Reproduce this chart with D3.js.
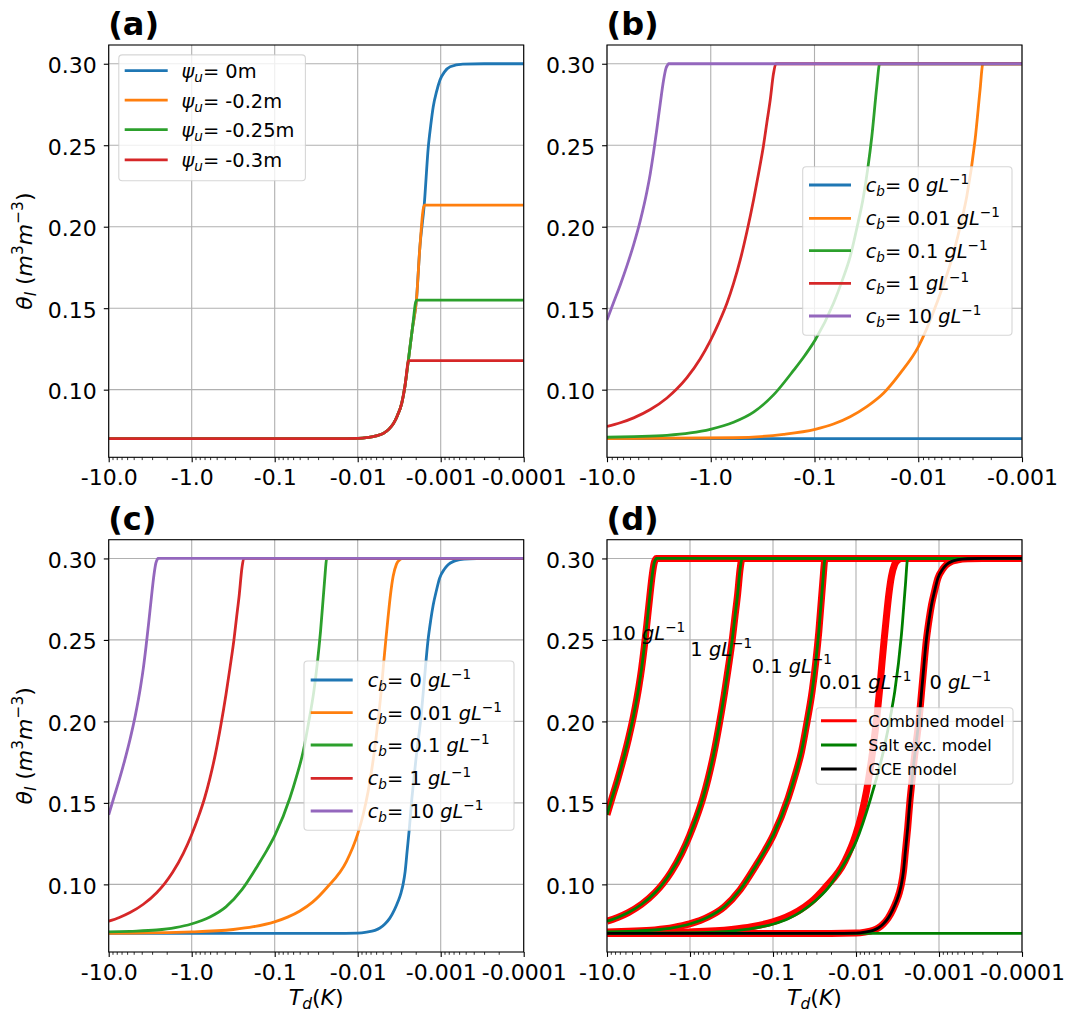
<!DOCTYPE html>
<html><head><meta charset="utf-8">
<script src="https://cdn.jsdelivr.net/npm/d3@7"></script>
<style>
body{margin:0;background:#fff}
text{font-family:"DejaVu Sans",sans-serif;white-space:pre}
</style>
</head><body>
<svg id="chart" width="1082" height="1017"></svg>
<script>
// ---------------- data ----------------
const xTickValues = [-10, -1, -0.1, -0.01, -0.001, -0.0001];
const xTickLabels = ["-10.0", "-1.0", "-0.1", "-0.01", "-0.001", "-0.0001"];
const yTickValues = [0.10, 0.15, 0.20, 0.25, 0.30];
const yTickLabels = ["0.10", "0.15", "0.20", "0.25", "0.30"];
const yDomain = [0.0585, 0.3115];

const psiLabels = ["0m", "-0.2m", "-0.25m", "-0.3m"];
const saltLabels = ["0", "0.01", "0.1", "1", "10"];
const modelLabels = ["Combined model", "Salt exc. model", "GCE model"];
const annotLabels = ["10", "1", "0.1", "0.01", "0"];
const annotT = [-8.9, -0.99, -0.18, -0.028, -0.0013];
const annotTheta = [0.25, 0.24, 0.23, 0.22, 0.22];

// panel (a): unfrozen water potential
const psi0 = [[-10,0.0699],[-0.02,0.0699],[-0.01,0.0701],[-0.0075,0.0707],[-0.006,0.0716],[-0.0049,0.0732],[-0.0042,0.0758],[-0.0037,0.0793],[-0.0033,0.0845],[-0.00295,0.0916],[-0.0027,0.102],[-0.00245,0.1182],[-0.0022,0.137],[-0.00196,0.155],[-0.00178,0.1877],[-0.00158,0.2133],[-0.00141,0.249],[-0.00132,0.262],[-0.00123,0.2736],[-0.00112,0.283],[-0.00102,0.29],[-0.0009,0.295],[-0.00077,0.2982],[-0.00054,0.2998],[-0.0003,0.30],[-0.0001,0.30]];
const psi02 = [[-10,0.0699],[-0.02,0.0699],[-0.01,0.0701],[-0.0075,0.0707],[-0.006,0.0716],[-0.0049,0.0732],[-0.0042,0.0758],[-0.0037,0.0793],[-0.0033,0.0845],[-0.00295,0.0916],[-0.0027,0.102],[-0.00245,0.1182],[-0.0022,0.137],[-0.00196,0.155],[-0.00178,0.1877],[-0.00158,0.2133],[-0.0001,0.2133]];
const psi025 = [[-10,0.0699],[-0.02,0.0699],[-0.01,0.0701],[-0.0075,0.0707],[-0.006,0.0716],[-0.0049,0.0732],[-0.0042,0.0758],[-0.0037,0.0793],[-0.0033,0.0845],[-0.00295,0.0916],[-0.0027,0.102],[-0.00245,0.1182],[-0.0022,0.137],[-0.00196,0.155],[-0.0001,0.155]];
const psi03 = [[-10,0.0699],[-0.02,0.0699],[-0.01,0.0701],[-0.0075,0.0707],[-0.006,0.0716],[-0.0049,0.0732],[-0.0042,0.0758],[-0.0037,0.0793],[-0.0033,0.0845],[-0.00295,0.0916],[-0.0027,0.102],[-0.00243,0.1178],[-0.0001,0.1178]];

// salt concentrations (curves shared by salt-exclusion and combined models)
const cb10 = [[-10,0.1427],[-8.627,0.1536],[-7.44,0.1644],[-6.419,0.1761],[-5.535,0.189],[-4.775,0.2037],[-4.119,0.2217],[-3.825,0.2327],[-3.553,0.2458],[-3.301,0.2603],[-3.065,0.2757],[-2.847,0.29],[-2.703,0.2971],[-2.585,0.2996],[-2.55,0.30],[-0.0001,0.30]];
const cb1 = [[-10,0.0774],[-7.44,0.0797],[-5.535,0.0827],[-3.825,0.0878],[-2.644,0.0949],[-2.118,0.1005],[-1.696,0.1074],[-1.262,0.119],[-1.011,0.13],[-0.8405,0.1407],[-0.6985,0.153],[-0.6027,0.1652],[-0.5199,0.1796],[-0.4484,0.1969],[-0.3868,0.2164],[-0.3462,0.2327],[-0.3099,0.25],[-0.2877,0.264],[-0.2673,0.2777],[-0.2482,0.2941],[-0.2357,0.30],[-0.0001,0.30]];
const cb01 = [[-10,0.0708],[-5.535,0.0712],[-2.644,0.072],[-1.575,0.0735],[-1.011,0.0757],[-0.6027,0.08],[-0.3868,0.0862],[-0.2482,0.0968],[-0.1593,0.1118],[-0.123,0.1213],[-0.09854,0.1305],[-0.06561,0.153],[-0.05454,0.1663],[-0.04533,0.1816],[-0.03911,0.199],[-0.03373,0.2186],[-0.03064,0.2358],[-0.02804,0.2552],[-0.0251,0.2859],[-0.02366,0.2998],[-0.0235,0.30],[-0.0001,0.30]];
const cb001Salt = [[-10,0.0699],[-0.6027,0.0705],[-0.1989,0.0726],[-0.09854,0.0757],[-0.06561,0.0789],[-0.04533,0.0834],[-0.03133,0.0896],[-0.02165,0.0978],[-0.01496,0.11],[-0.00996,0.1264],[-0.006637,0.153],[-0.004585,0.1836],[-0.003811,0.2041],[-0.003411,0.2184],[-0.002835,0.2532],[-0.002538,0.2838],[-0.002392,0.2998],[-0.00238,0.30],[-0.0001,0.30]];
const cb001Comb = [[-10,0.0699],[-1.002,0.0708],[-0.3157,0.0723],[-0.18,0.074],[-0.1004,0.077],[-0.07,0.0799],[-0.04971,0.0837],[-0.035,0.0891],[-0.02374,0.0978],[-0.01364,0.1141],[-0.01006,0.1305],[-0.008597,0.1427],[-0.007482,0.1571],[-0.006636,0.1734],[-0.006047,0.1888],[-0.005566,0.2041],[-0.005169,0.2205],[-0.004846,0.2368],[-0.004585,0.2499],[-0.004297,0.2644],[-0.004028,0.2777],[-0.003741,0.289],[-0.003411,0.2965],[-0.00311,0.2992],[-0.002836,0.30],[-0.0001,0.30]];
const cb0Salt = [[-10,0.0699],[-0.0001,0.0699]];
const cb0Comb = [[-10,0.0699],[-0.02,0.0699],[-0.01,0.0701],[-0.0078,0.0707],[-0.0062,0.0718],[-0.0054,0.0732],[-0.0047,0.0757],[-0.0041,0.0793],[-0.0036,0.0845],[-0.00326,0.0896],[-0.003,0.095],[-0.00284,0.10],[-0.00268,0.108],[-0.00254,0.1202],[-0.00238,0.135],[-0.00225,0.15],[-0.00212,0.163],[-0.002,0.1755],[-0.00187,0.188],[-0.00175,0.20],[-0.00158,0.2245],[-0.00142,0.25],[-0.00132,0.262],[-0.00123,0.2716],[-0.00113,0.28],[-0.00103,0.2879],[-0.0009,0.2935],[-0.000815,0.2961],[-0.0007,0.2982],[-0.000589,0.2992],[-0.00045,0.2998],[-0.0003,0.30],[-0.0001,0.30]];
const gce = cb0Comb;

// ---------------- layout / style ----------------
const tab = ["#1f77b4", "#ff7f0e", "#2ca02c", "#d62728", "#9467bd"];
const PW = 415, PH = 412.3;
const TICKFS = 22, LEGFS = 19.4;
const svg = d3.select("#chart");

const panels = {
  a: {key: "a", left: 108.7, top: 45, xEnd: 1e-4},
  b: {key: "b", left: 607, top: 45, xEnd: 1e-3},
  c: {key: "c", left: 108.7, top: 539.7, xEnd: 1e-4},
  d: {key: "d", left: 607, top: 539.7, xEnd: 1e-4}
};

function mathText(sel, parts, fs) {
  let cur = 0;
  parts.forEach(p => {
    const target = p.sub ? 0.2 * fs : (p.sup ? -0.42 * fs : 0);
    const ts = sel.append("tspan").text(p.t).attr("dy", target - cur);
    cur = target;
    if (p.sub || p.sup) ts.attr("font-size", fs * 0.7);
    if (p.i) ts.attr("font-style", "italic");
  });
}

function setupPanel(p) {
  const x = d3.scaleLog().domain([10, p.xEnd]).range([p.left, p.left + PW]);
  const y = d3.scaleLinear().domain(yDomain).range([p.top + PH, p.top]);
  const g = svg.append("g");
  const majors = xTickValues.filter(v => -v >= p.xEnd * 0.999);
  g.append("g").selectAll("line").data(majors).join("line")
    .attr("x1", d => x(-d)).attr("x2", d => x(-d))
    .attr("y1", p.top).attr("y2", p.top + PH)
    .attr("stroke", "#b0b0b0").attr("stroke-width", 1.1);
  g.append("g").selectAll("line").data(yTickValues).join("line")
    .attr("y1", d => y(d)).attr("y2", d => y(d))
    .attr("x1", p.left).attr("x2", p.left + PW)
    .attr("stroke", "#b0b0b0").attr("stroke-width", 1.1);
  const cid = "clip" + p.key;
  svg.append("clipPath").attr("id", cid).append("rect")
    .attr("x", p.left).attr("y", p.top).attr("width", PW).attr("height", PH);
  const plot = g.append("g").attr("clip-path", `url(#${cid})`);
  const line = d3.line().x(d => x(-d[0])).y(d => y(d[1])).curve(d3.curveMonotoneX);
  return {p, x, y, g, plot, line, majors};
}

function drawSeries(ctx, data, color, width) {
  ctx.plot.append("path").datum(data).attr("d", ctx.line)
    .attr("fill", "none").attr("stroke", color).attr("stroke-width", width)
    .attr("stroke-linejoin", "round").attr("stroke-linecap", "butt");
}

function drawAxes(ctx) {
  const p = ctx.p;
  const minors = [];
  for (let k = -4; k <= 0; k++) for (let m = 2; m <= 9; m++) {
    const v = m * Math.pow(10, k);
    if (v < 10 && v > p.xEnd * 1.0001) minors.push(v);
  }
  const bottom = p.top + PH;
  ctx.g.append("g").attr("transform", `translate(0,${bottom})`)
    .call(d3.axisBottom(ctx.x).tickValues(minors).tickFormat("").tickSize(2.8))
    .call(s => s.select(".domain").remove())
    .call(s => s.selectAll("line").attr("stroke", "#000").attr("stroke-width", 0.8));
  const labels = ctx.majors.map(v => xTickLabels[xTickValues.indexOf(v)]);
  ctx.g.append("g").attr("transform", `translate(0,${bottom})`)
    .call(d3.axisBottom(ctx.x).tickValues(ctx.majors.map(v => -v))
      .tickFormat((d, i) => labels[i]).tickSize(4.9).tickPadding(7))
    .call(s => s.select(".domain").remove())
    .call(s => s.selectAll("line").attr("stroke", "#000").attr("stroke-width", 1.1))
    .call(s => s.selectAll("text").attr("fill", "#000"))
    .attr("font-size", TICKFS).attr("font-family", "DejaVu Sans");
  ctx.g.append("g").attr("transform", `translate(${p.left},0)`)
    .call(d3.axisLeft(ctx.y).tickValues(yTickValues)
      .tickFormat((d, i) => yTickLabels[i]).tickSize(4.9).tickPadding(7.1))
    .call(s => s.select(".domain").remove())
    .call(s => s.selectAll("line").attr("stroke", "#000").attr("stroke-width", 1.1))
    .call(s => s.selectAll("text").attr("fill", "#000").attr("dy", "0.41em"))
    .attr("font-size", TICKFS).attr("font-family", "DejaVu Sans");
  ctx.g.append("rect").attr("x", p.left).attr("y", p.top).attr("width", PW).attr("height", PH)
    .attr("fill", "none").attr("stroke", "#000").attr("stroke-width", 1.1);
  ctx.g.append("text").attr("x", p.left - 0.5).attr("y", p.top - 10)
    .attr("font-size", 32).attr("font-weight", "bold").text("(" + p.key + ")");
}

function drawLegend(box, entries, fs, baseOff) {
  const g = svg.append("g");
  g.append("rect").attr("x", box.x).attr("y", box.y).attr("width", box.w).attr("height", box.h)
    .attr("rx", 3.5).attr("fill", "#fff").attr("fill-opacity", 0.8)
    .attr("stroke", "#cccccc").attr("stroke-opacity", 0.8).attr("stroke-width", 1.1);
  entries.forEach((e, i) => {
    const ry = box.rows[i];
    g.append("line").attr("x1", box.h0).attr("x2", box.h1).attr("y1", ry).attr("y2", ry)
      .attr("stroke", e.color).attr("stroke-width", e.width || 2.8);
    const t = g.append("text").attr("x", box.tx).attr("y", ry + baseOff).attr("font-size", fs);
    if (e.parts) mathText(t, e.parts, fs); else t.text(e.text);
  });
}

function yLabel(p) {
  const t = svg.append("text").attr("font-size", TICKFS).attr("text-anchor", "middle")
    .attr("transform", `translate(32,${p.top + PH / 2}) rotate(-90)`);
  mathText(t, [{t: "θ", i: 1}, {t: "l", i: 1, sub: 1}, {t: " ("}, {t: "m", i: 1}, {t: "3", sup: 1},
    {t: "m", i: 1}, {t: "−3", sup: 1}, {t: ")"}], TICKFS);
}
function xLabel(p) {
  const t = svg.append("text").attr("font-size", TICKFS).attr("text-anchor", "middle")
    .attr("x", p.left + PW / 2).attr("y", 1005);
  mathText(t, [{t: "T", i: 1}, {t: "d", i: 1, sub: 1}, {t: "("}, {t: "K", i: 1}, {t: ")"}], TICKFS);
}
const saltParts = v => [{t: "c", i: 1}, {t: "b", i: 1, sub: 1}, {t: "= " + v + " "}, {t: "gL", i: 1}, {t: "−1", sup: 1}];

// ---------------- panel (a) ----------------
{
  const ctx = setupPanel(panels.a);
  [psi0, psi02, psi025, psi03].forEach((s, i) => drawSeries(ctx, s, tab[i], 2.8));
  drawAxes(ctx);
  drawLegend({x: 118.8, y: 54.9, w: 186.6, h: 125.8, rows: [70.6, 100.2, 129.7, 159.9], h0: 124.7, h1: 167.7, tx: 181.5},
    psiLabels.map((l, i) => ({color: tab[i], parts: [{t: "ψ", i: 1}, {t: "u", i: 1, sub: 1}, {t: "= " + l}]})), LEGFS, 7.5);
  yLabel(panels.a);
}
// ---------------- panel (b) ----------------
{
  const ctx = setupPanel(panels.b);
  [cb0Salt, cb001Salt, cb01, cb1, cb10].forEach((s, i) => drawSeries(ctx, s, tab[i], 2.8));
  drawAxes(ctx);
  drawLegend({x: 802.7, y: 166.7, w: 209.3, h: 168.6, rows: [185, 218.3, 250.7, 283.3, 316], h0: 809, h1: 851, tx: 865.7},
    saltLabels.map((l, i) => ({color: tab[i], parts: saltParts(l)})), LEGFS, 7);
}
// ---------------- panel (c) ----------------
{
  const ctx = setupPanel(panels.c);
  [cb0Comb, cb001Comb, cb01, cb1, cb10].forEach((s, i) => drawSeries(ctx, s, tab[i], 2.8));
  drawAxes(ctx);
  drawLegend({x: 304, y: 661, w: 210, h: 169.3, rows: [680, 712.7, 745, 778.3, 811], h0: 310.7, h1: 352.7, tx: 367.7},
    saltLabels.map((l, i) => ({color: tab[i], parts: saltParts(l)})), LEGFS, 7);
  yLabel(panels.c);
  xLabel(panels.c);
}
// ---------------- panel (d) ----------------
{
  const ctx = setupPanel(panels.d);
  [cb0Comb, cb001Comb, cb01, cb1, cb10].forEach(s => drawSeries(ctx, s, "#ff0000", 7));
  [cb0Salt, cb001Salt, cb01, cb1, cb10].forEach(s => drawSeries(ctx, s, "#008000", 2.8));
  drawSeries(ctx, gce, "#000000", 2.8);
  annotLabels.forEach((l, i) => {
    const t = ctx.g.append("text").attr("x", ctx.x(-annotT[i])).attr("y", ctx.y(annotTheta[i])).attr("font-size", LEGFS);
    mathText(t, [{t: l + " "}, {t: "gL", i: 1}, {t: "−1", sup: 1}], LEGFS);
  });
  drawAxes(ctx);
  drawLegend({x: 816, y: 707.7, w: 197, h: 76.6, rows: [720.7, 745, 769], h0: 821, h1: 856.7, tx: 868.3},
    modelLabels.map((l, i) => ({color: ["#ff0000", "#008000", "#000000"][i], width: 3, text: l})), 16, 5.8);
  xLabel(panels.d);
}
</script>
</body></html>
